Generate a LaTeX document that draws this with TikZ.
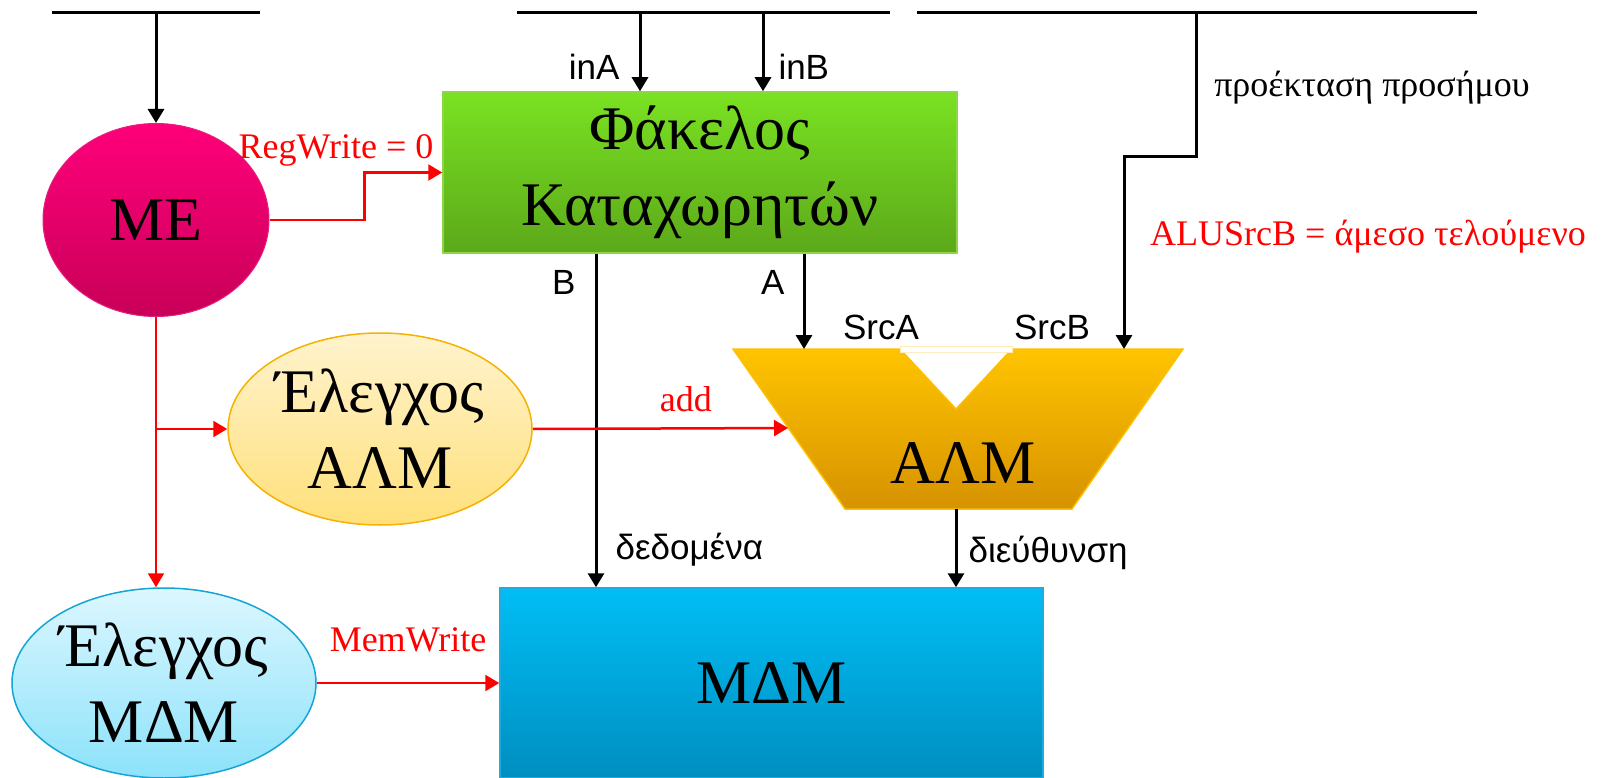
\documentclass[tikz,border=0pt]{standalone}
\usepackage{fontspec}
\setmainfont{Liberation Serif}
\setsansfont{Liberation Sans}
\usetikzlibrary{arrows.meta,shapes.geometric}

\definecolor{sigred}{RGB}{255,0,0}
\definecolor{metop}{RGB}{255,0,122}
\definecolor{mebot}{RGB}{200,0,88}
\definecolor{meedge}{RGB}{232,30,125}
\definecolor{rftop}{RGB}{122,226,34}
\definecolor{rfbot}{RGB}{92,168,26}
\definecolor{rfedge}{RGB}{140,215,70}
\definecolor{actop}{RGB}{255,243,206}
\definecolor{acbot}{RGB}{255,224,122}
\definecolor{acedge}{RGB}{245,178,0}
\definecolor{mctop}{RGB}{220,247,255}
\definecolor{mcbot}{RGB}{140,226,250}
\definecolor{mcedge}{RGB}{20,165,212}
\definecolor{alutop}{RGB}{255,196,0}
\definecolor{alubot}{RGB}{214,146,0}
\definecolor{aluedge}{RGB}{255,192,0}
\definecolor{notchedge}{RGB}{255,236,190}
\definecolor{memtop}{RGB}{0,190,245}
\definecolor{membot}{RGB}{0,142,192}
\definecolor{memedge}{RGB}{30,172,222}

\tikzset{
  wire/.style={line width=3pt, -{Triangle[length=14pt,width=16pt]}},
  ctrl/.style={wire, line width=2.5pt, sigred},
  bigtxt/.style={font=\fontsize{62}{76}\selectfont, align=center},
  lbl/.style={font=\sffamily\fontsize{35}{40}\selectfont, inner sep=0pt},
  sig/.style={font=\fontsize{36}{40}\selectfont, text=sigred, inner sep=0pt},
}

\begin{document}
\begin{tikzpicture}[x=1pt, y=-1pt]
\useasboundingbox (0,0) rectangle (1612,778);

% blocks
\node[ellipse, draw=meedge, line width=1pt, top color=metop, bottom color=mebot,
  minimum width=226pt, minimum height=193pt, inner sep=0pt, bigtxt] (me) at (156,220) {ΜΕ};
\node[draw=rfedge, line width=1.5pt, top color=rftop, bottom color=rfbot,
  minimum width=514pt, minimum height=161pt, inner sep=0pt, bigtxt] (regfile) at (700,172.5) {Φάκελος\\Καταχωρητών};
\node[ellipse, draw=acedge, line width=1.5pt, top color=actop, bottom color=acbot,
  minimum width=304pt, minimum height=192pt, inner sep=0pt, bigtxt] (aluctrl) at (380,429) {Έλεγχος\\ΑΛΜ};
\node[ellipse, draw=mcedge, line width=1.5pt, top color=mctop, bottom color=mcbot,
  minimum width=304pt, minimum height=190pt, inner sep=0pt, bigtxt] (memctrl) at (164,683) {Έλεγχος\\ΜΔΜ};
\node[draw=memedge, line width=1.5pt, top color=memtop, bottom color=membot,
  minimum width=543pt, minimum height=190pt, inner sep=0pt, bigtxt] (mem) at (771.5,683) {ΜΔΜ};

% ALU
\shadedraw[draw=aluedge, line width=1.5pt, top color=alutop, bottom color=alubot]
  (733,349) -- (900,349) -- (956,409) -- (1012,349) -- (1183,349) -- (1072,509) -- (845,509) -- cycle;
\filldraw[fill=white, draw=notchedge, line width=1pt] (900,346) rectangle (1012,352);
\node[bigtxt] (alu) at (963,463) {ΑΛΜ};
\coordinate (srcA) at (804,349);
\coordinate (srcB) at (1124,349);
\coordinate (aluin) at (788,428);
\coordinate (aluout) at (956,509);

% buses
\coordinate (bus1w) at (52,13);  \coordinate (bus1e) at (260,13);
\coordinate (bus2w) at (517,13); \coordinate (bus2e) at (890,13);
\coordinate (bus3w) at (917,13); \coordinate (bus3e) at (1477,13);
\draw[line width=3pt] (bus1w) -- (bus1e) (bus2w) -- (bus2e) (bus3w) -- (bus3e);
\coordinate (inA) at (640,13);
\coordinate (inB) at (763,13);
\coordinate (sext) at (1196,13);
\coordinate (bout) at ([xshift=-104pt]regfile.south);
\coordinate (aout) at ([xshift=104pt]regfile.south);

% data paths
\draw[wire] (me.north |- bus1w) -- (me.north);
\draw[wire] (inA) -- (inA |- regfile.north) node[lbl, pos=0.69, left=19pt] {inA};
\draw[wire] (inB) -- (inB |- regfile.north) node[lbl, pos=0.69, right=14pt] {inB};
\draw[wire] (bout) -- (bout |- mem.north)
  node[lbl, pos=0.087, left=19pt] {B}
  node[lbl, pos=0.887, right=18pt] {δεδομένα};
\draw[wire] (aout) -- (srcA) node[lbl, pos=0.3, left=18pt] {A};
\draw[wire] (sext) -- ++(0,144) -| (srcB);
\draw[wire] (aluout) -- (aluout |- mem.north) node[lbl, pos=0.56, right=11pt] {διεύθυνση};
\node[lbl] (srcAlbl) at (881,327) {SrcA};
\node[lbl] (srcBlbl) at (1052,327) {SrcB};
\node[sig, text=black] (sextlbl) at (1372,88) {προέκταση προσήμου};

% control signals
\draw[ctrl] (me.east) -- ++(95,0) |- (regfile.west);
\node[sig] (regwlbl) at (336,150) {RegWrite = 0};
\draw[ctrl] (me.south) -- (me.south |- memctrl.north);
\draw[ctrl] (me.south |- aluctrl.west) -- (aluctrl.west);
\draw[ctrl] (aluctrl.east) -- (aluin) node[sig, pos=0.6, above=15pt] {add};
\draw[ctrl] (memctrl.east) -- (mem.west) node[sig, midway, above=30pt] {MemWrite};
\node[sig] (srcblbl) at (1368,237) {ALUSrcB = άμεσο τελούμενο};
\end{tikzpicture}
\end{document}
